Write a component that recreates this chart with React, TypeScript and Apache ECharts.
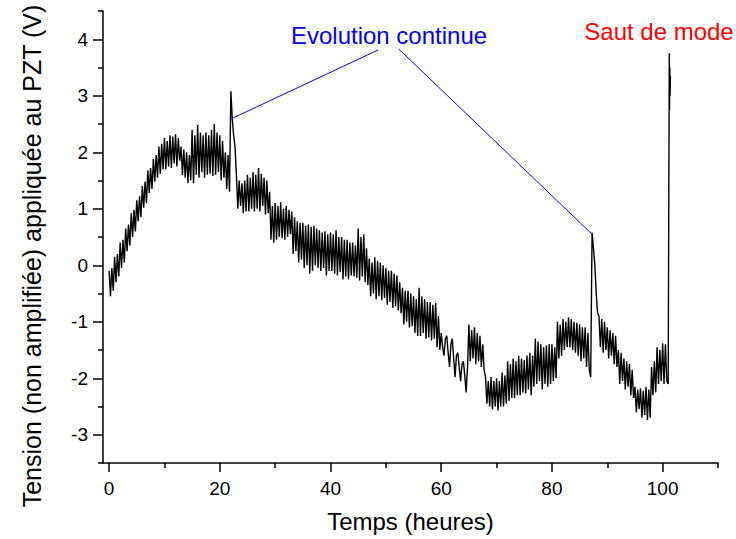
import { useEffect, useRef } from "react";
import * as echarts from "echarts";

// Sampling step (hours) of the recorded PZT voltage
const hourStep = 0.25;
// Voltage readings (V) from t = 0 h to t = 101 h, every 0.25 h (one row = 5 h)
const volts = [
  -0.10, -0.55, -0.05, -0.45, 0.15, -0.30, 0.20, -0.20, 0.40, -0.05, 0.45, 0.05, 0.65, 0.25, 0.72, 0.35, 0.92, 0.50, 0.98, 0.60,
  1.15, 0.78, 1.22, 0.85, 1.40, 1.02, 1.48, 1.10, 1.68, 1.28, 1.72, 1.35, 1.88, 1.48, 1.95, 1.55, 2.10, 1.62, 2.15, 1.70,
  2.25, 1.70, 2.20, 1.75, 2.30, 1.72, 2.28, 1.80, 2.32, 1.75, 2.25, 1.85, 2.10, 1.60, 2.05, 1.55, 2.00, 1.45, 1.95, 1.50,
  2.40, 1.45, 2.30, 1.60, 2.48, 1.55, 2.35, 1.65, 2.30, 1.55, 2.35, 1.60, 2.30, 1.62, 2.40, 1.58, 2.50, 1.60, 2.35, 1.65,
  2.30, 1.50, 2.20, 1.55, 2.00, 1.35, 1.95, 1.30, 3.08, 2.60, 2.30, 2.10, 1.60, 1.00, 1.50, 1.05, 1.45, 0.92, 1.50, 0.95,
  1.60, 0.95, 1.55, 1.00, 1.65, 0.95, 1.60, 1.00, 1.72, 0.95, 1.62, 1.05, 1.55, 0.90, 1.50, 0.92, 1.30, 0.45, 1.05, 0.40,
  1.10, 0.45, 1.05, 0.50, 1.12, 0.48, 1.00, 0.45, 1.05, 0.50, 0.98, 0.55, 0.95, 0.20, 0.85, 0.25, 0.78, 0.05, 0.75, 0.10,
  0.75, -0.05, 0.70, 0.00, 0.72, -0.15, 0.68, -0.10, 0.70, 0.00, 0.65, -0.05, 0.62, -0.10, 0.58, -0.05, 0.60, -0.18, 0.55, -0.10,
  0.58, -0.10, 0.55, -0.15, 0.62, -0.18, 0.50, -0.12, 0.50, -0.25, 0.45, -0.20, 0.45, -0.25, 0.40, -0.18, 0.40, -0.20, 0.35, -0.22,
  0.65, -0.27, 0.50, -0.20, 0.55, -0.30, 0.30, -0.35, 0.12, -0.55, 0.05, -0.50, 0.14, -0.60, 0.08, -0.55, 0.05, -0.62, 0.00, -0.58,
  -0.05, -0.70, -0.10, -0.65, -0.10, -0.75, -0.15, -0.72, -0.18, -0.80, -0.30, -0.85, -0.40, -1.05, -0.45, -1.00, -0.45, -1.10, -0.50, -1.08,
  -0.55, -1.20, -0.60, -1.25, -0.40, -1.25, -0.55, -1.20, -0.60, -1.30, -0.65, -1.28, -0.65, -1.33, -0.70, -1.30, -0.67, -1.45, -0.90, -1.50,
  -1.20, -1.45, -1.60, -1.30, -1.25, -1.55, -1.80, -1.40, -1.30, -1.65, -1.98, -1.60, -1.55, -1.80, -2.05, -1.75, -1.70, -1.95, -2.25, -1.80,
  -1.05, -1.70, -1.15, -1.65, -1.10, -1.75, -1.20, -1.70, -1.25, -1.80, -1.40, -1.85, -1.98, -2.45, -2.05, -2.50, -1.98, -2.55, -2.05, -2.50,
  -2.00, -2.57, -2.05, -2.50, -1.90, -2.50, -1.95, -2.45, -1.70, -2.40, -1.75, -2.35, -1.65, -2.35, -1.70, -2.30, -1.60, -2.30, -1.65, -2.25,
  -1.68, -2.27, -1.60, -2.20, -1.55, -2.30, -1.60, -2.15, -1.30, -2.10, -1.35, -2.05, -1.40, -2.20, -1.45, -2.10, -1.42, -2.15, -1.40, -2.10,
  -1.40, -2.05, -1.45, -2.00, -1.00, -1.65, -1.05, -1.60, -0.95, -1.50, -1.00, -1.45, -0.92, -1.45, -0.95, -1.50, -1.00, -1.55, -1.02, -1.60,
  -1.05, -1.70, -1.10, -1.65, -1.10, -1.80, -1.20, -1.85, -1.98, 0.58, 0.30, 0.00, -0.50, -0.85, -0.90, -1.45, -0.95, -1.55, -1.00, -1.50,
  -1.10, -1.65, -1.15, -1.60, -1.20, -1.75, -1.25, -1.80, -1.50, -2.10, -1.55, -2.05, -1.65, -2.20, -1.70, -2.15, -1.75, -2.30, -1.85, -2.35,
  -2.15, -2.60, -2.20, -2.55, -2.18, -2.70, -2.22, -2.65, -2.15, -2.74, -2.20, -2.70, -1.80, -2.30, -1.70, -2.25, -1.45, -2.10, -1.50, -2.05,
  -1.38, -2.10, -1.40, -2.05, -2.10,
];
// Mode hop at the end of the record
const jumpHours = [101.2, 101.25, 101.3, 101.35, 101.4];
const jumpVolts = [3.75, 2.75, 3.5, 3.0, 3.35];

const xMajorTicks = [0, 20, 40, 60, 80, 100];
const xMinorTicks = [10, 30, 50, 70, 90, 110];
const yMajorTicks = [-3, -2, -1, 0, 1, 2, 3, 4];
const yMinorTicks = [-3.5, -2.5, -1.5, -0.5, 0.5, 1.5, 2.5, 3.5, 4.5];

// Annotation pointers (hours, volts): from label to feature
const pointerFrom = [
  [48.6, 3.81],
  [52.3, 3.83],
];
const pointerTo = [
  [22.25, 2.6],
  [87.25, 0.55],
];

const FONT = "'Liberation Sans', Arial, sans-serif";

export default function App() {
  const ref = useRef<HTMLDivElement>(null);
  useEffect(() => {
    if (!ref.current) return;
    const chart = echarts.init(ref.current, null, { renderer: "svg" });
    const signal = volts
      .map((v, i) => [i * hourStep, v])
      .concat(jumpHours.map((h, i) => [h, jumpVolts[i]]));
    const axisLine = { show: true, onZero: false, lineStyle: { color: "#000", width: 1.5 } };
    const pointerSeries = pointerFrom.map((p, i) => ({
      type: "line",
      data: [p, pointerTo[i]],
      showSymbol: false,
      silent: true,
      lineStyle: { color: "#0000ff", width: 1 },
      z: 3,
    }));
    chart.setOption({
      animation: false,
      backgroundColor: "#fff",
      grid: { left: 103, right: 18, top: 11, bottom: 76, containLabel: false, outerBoundsMode: "none" },
      xAxis: [
        {
          type: "value",
          min: -1.1,
          max: 110,
          axisLine,
          axisTick: { show: true, customValues: xMajorTicks, length: 9, lineStyle: { color: "#000", width: 1.5 } },
          axisLabel: { customValues: xMajorTicks, fontSize: 19, color: "#000", margin: 16, fontFamily: FONT },
          splitLine: { show: false },
          name: "Temps (heures)",
          nameLocation: "middle",
          nameGap: 46,
          nameTextStyle: { fontSize: 24, color: "#000", fontFamily: FONT },
        },
        {
          type: "value",
          min: -1.1,
          max: 110,
          position: "bottom",
          axisLine: { show: false, onZero: false },
          axisTick: { show: true, customValues: xMinorTicks, length: 5, lineStyle: { color: "#000", width: 1.5 } },
          axisLabel: { show: false },
          splitLine: { show: false },
        },
      ],
      yAxis: [
        {
          type: "value",
          min: -3.5,
          max: 4.5,
          axisLine,
          axisTick: { show: true, customValues: yMajorTicks, length: 10, lineStyle: { color: "#000", width: 1.5 } },
          axisLabel: { customValues: yMajorTicks, fontSize: 19, color: "#000", margin: 15, fontFamily: FONT },
          splitLine: { show: false },
        },
        {
          type: "value",
          min: -3.5,
          max: 4.5,
          position: "left",
          axisLine: { show: false, onZero: false },
          axisTick: { show: true, customValues: yMinorTicks, length: 5, lineStyle: { color: "#000", width: 1.5 } },
          axisLabel: { show: false },
          splitLine: { show: false },
        },
      ],
      series: [
        {
          type: "line",
          data: signal,
          showSymbol: false,
          silent: true,
          lineStyle: { color: "#000", width: 1.4 },
          z: 2,
        },
        ...pointerSeries,
      ],
      graphic: [
        {
          type: "text",
          x: 32,
          y: 256,
          rotation: Math.PI / 2,
          style: {
            text: "Tension (non amplifiée) appliquée au PZT (V)",
            fontSize: 25,
            fontFamily: FONT,
            fill: "#000",
            align: "center",
            verticalAlign: "middle",
          },
        },
        {
          type: "text",
          x: 389,
          y: 35,
          style: {
            text: "Evolution continue",
            fontSize: 24,
            fontFamily: FONT,
            fill: "#0000ff",
            align: "center",
            verticalAlign: "middle",
          },
        },
        {
          type: "text",
          x: 659,
          y: 31,
          style: {
            text: "Saut de mode",
            fontSize: 24,
            fontFamily: FONT,
            fill: "#ff0000",
            align: "center",
            verticalAlign: "middle",
          },
        },
      ],
    });
    return () => chart.dispose();
  }, []);
  return (
    <div
      ref={ref}
      style={{ position: "fixed", left: 0, top: 0, width: 736, height: 539, background: "#fff" }}
    />
  );
}
